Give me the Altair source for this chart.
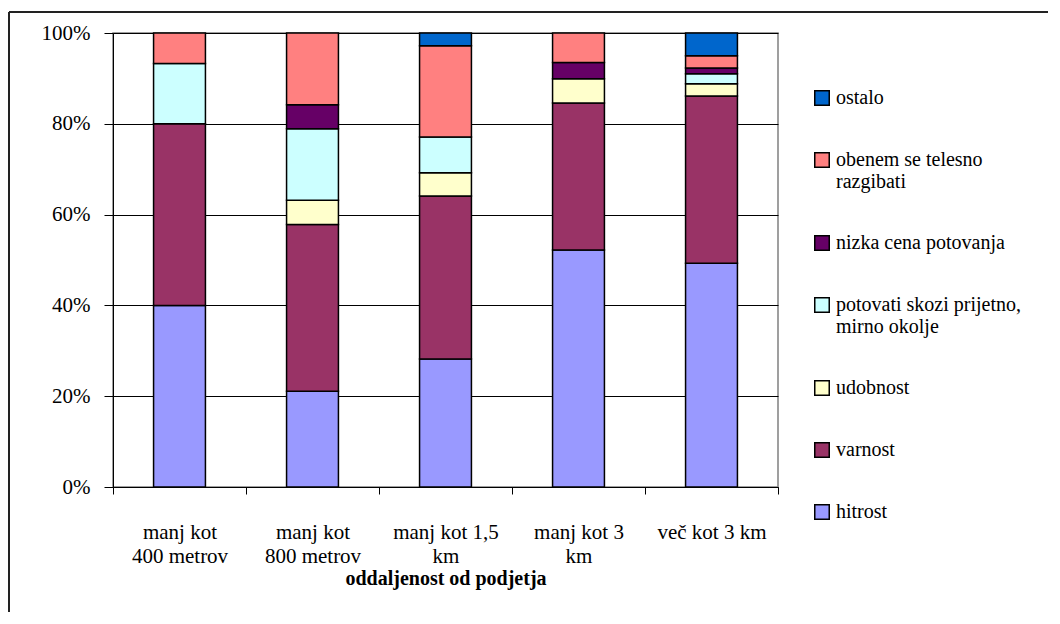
import altair as alt
import pandas as pd

categories = ["manj kot 400 metrov", "manj kot 800 metrov", "manj kot 1,5 km",
              "manj kot 3 km", "več kot 3 km"]
category_lines = [["manj kot", "400 metrov"], ["manj kot", "800 metrov"],
                  ["manj kot 1,5", "km"], ["manj kot 3", "km"], ["več kot 3 km"]]

# series, bottom to top of each bar
series = ["hitrost", "varnost", "udobnost", "potovati skozi prijetno, mirno okolje",
          "nizka cena potovanja", "obenem se telesno razgibati", "ostalo"]
series_lines = [["hitrost"], ["varnost"], ["udobnost"],
                ["potovati skozi prijetno,", "mirno okolje"],
                ["nizka cena potovanja"], ["obenem se telesno", "razgibati"], ["ostalo"]]
series_colors = ["#9999FF", "#993366", "#FFFFCC", "#CCFFFF", "#660066", "#FF8080", "#0066CC"]

hitrost = [40.0, 21.1, 28.2, 52.2, 49.3]
varnost = [40.0, 36.8, 35.9, 32.4, 36.8]
udobnost = [0.0, 5.3, 5.1, 5.3, 2.7]
potovati = [13.3, 15.8, 7.9, 0.0, 2.2]
nizka = [0.0, 5.3, 0.0, 3.6, 1.3]
obenem = [6.7, 15.8, 20.1, 6.5, 2.7]
ostalo = [0.0, 0.0, 2.8, 0.0, 5.0]
values = [hitrost, varnost, udobnost, potovati, nizka, obenem, ostalo]

rows = []
for si, (s, vals) in enumerate(zip(series, values)):
    for c, v in zip(categories, vals):
        if v > 0:
            rows.append({"kat": c, "serija": s, "vrednost": v, "red": si})
df = pd.DataFrame(rows)

legend_order = series[::-1]
legend_colors = series_colors[::-1]

FONT = "Liberation Serif"


def ternary(names, lines):
    expr = "datum.label"
    for n, l in zip(names, lines):
        arr = "[" + ",".join("'" + x + "'" for x in l) + "]"
        expr = f"datum.label == '{n}' ? {arr} : ({expr})"
    return expr


bars = alt.Chart(df).mark_bar(
    stroke="black", strokeWidth=1.5, width=alt.RelativeBandSize(0.39)
).encode(
    x=alt.X("kat:N", sort=categories,
            scale=alt.Scale(paddingInner=0, paddingOuter=0),
            axis=alt.Axis(title="oddaljenost od podjetja", labelAngle=0, tickBand="extent",
                          tickSize=7, tickColor="black", domainColor="black",
                          labelFont=FONT, labelFontSize=21, labelColor="black",
                          labelBaseline="top", labelLineHeight=24, labelPadding=27,
                          labelExpr=ternary(categories, category_lines), labelLimit=200,
                          titleFont=FONT, titleFontSize=20, titleFontWeight="bold",
                          titleColor="black", titlePadding=2)),
    y=alt.Y("vrednost:Q", stack="normalize",
            scale=alt.Scale(domain=[0, 1]),
            axis=alt.Axis(title=None, values=[0, 0.2, 0.4, 0.6, 0.8, 1.0], format=".0%",
                          grid=True, gridColor="black", gridWidth=1, gridOpacity=1,
                          domainColor="black", tickColor="black", tickSize=9,
                          labelFont=FONT, labelFontSize=21, labelColor="black",
                          labelPadding=14)),
    color=alt.Color("serija:N",
                    scale=alt.Scale(domain=legend_order, range=legend_colors),
                    legend=alt.Legend(title=None, orient="none", legendX=699, legendY=55,
                                      symbolType="square", symbolSize=210,
                                      symbolStrokeColor="black", symbolStrokeWidth=1.5,
                                      symbolOpacity=1,
                                      labelFont=FONT, labelFontSize=20, labelColor="black",
                                      labelLimit=400, labelOffset=4,
                                      rowPadding=40,
                                      labelExpr=ternary(series, series_lines))),
    order=alt.Order("red:Q", sort="ascending"),
)

frame_df = pd.DataFrame({"okvir": [1]})
frame_top = alt.Chart(frame_df).mark_rule(color="#222222", strokeWidth=2).encode(
    x=alt.value(-104), x2=alt.value(2000), y=alt.value(-21)
)
frame_left = alt.Chart(frame_df).mark_rule(color="#222222", strokeWidth=2).encode(
    x=alt.value(-104), y=alt.value(-21), y2=alt.value(2000)
)

chart = alt.layer(frame_top, frame_left, bars).properties(
    width=665, height=454,
    padding={"left": 105, "top": 25, "right": 270, "bottom": 125},
    autosize=alt.AutoSizeParams(type="none"),
).configure_view(stroke="#808080", strokeWidth=1.5)

chart.save("out.html", embed_options={"renderer": "svg", "actions": False})
